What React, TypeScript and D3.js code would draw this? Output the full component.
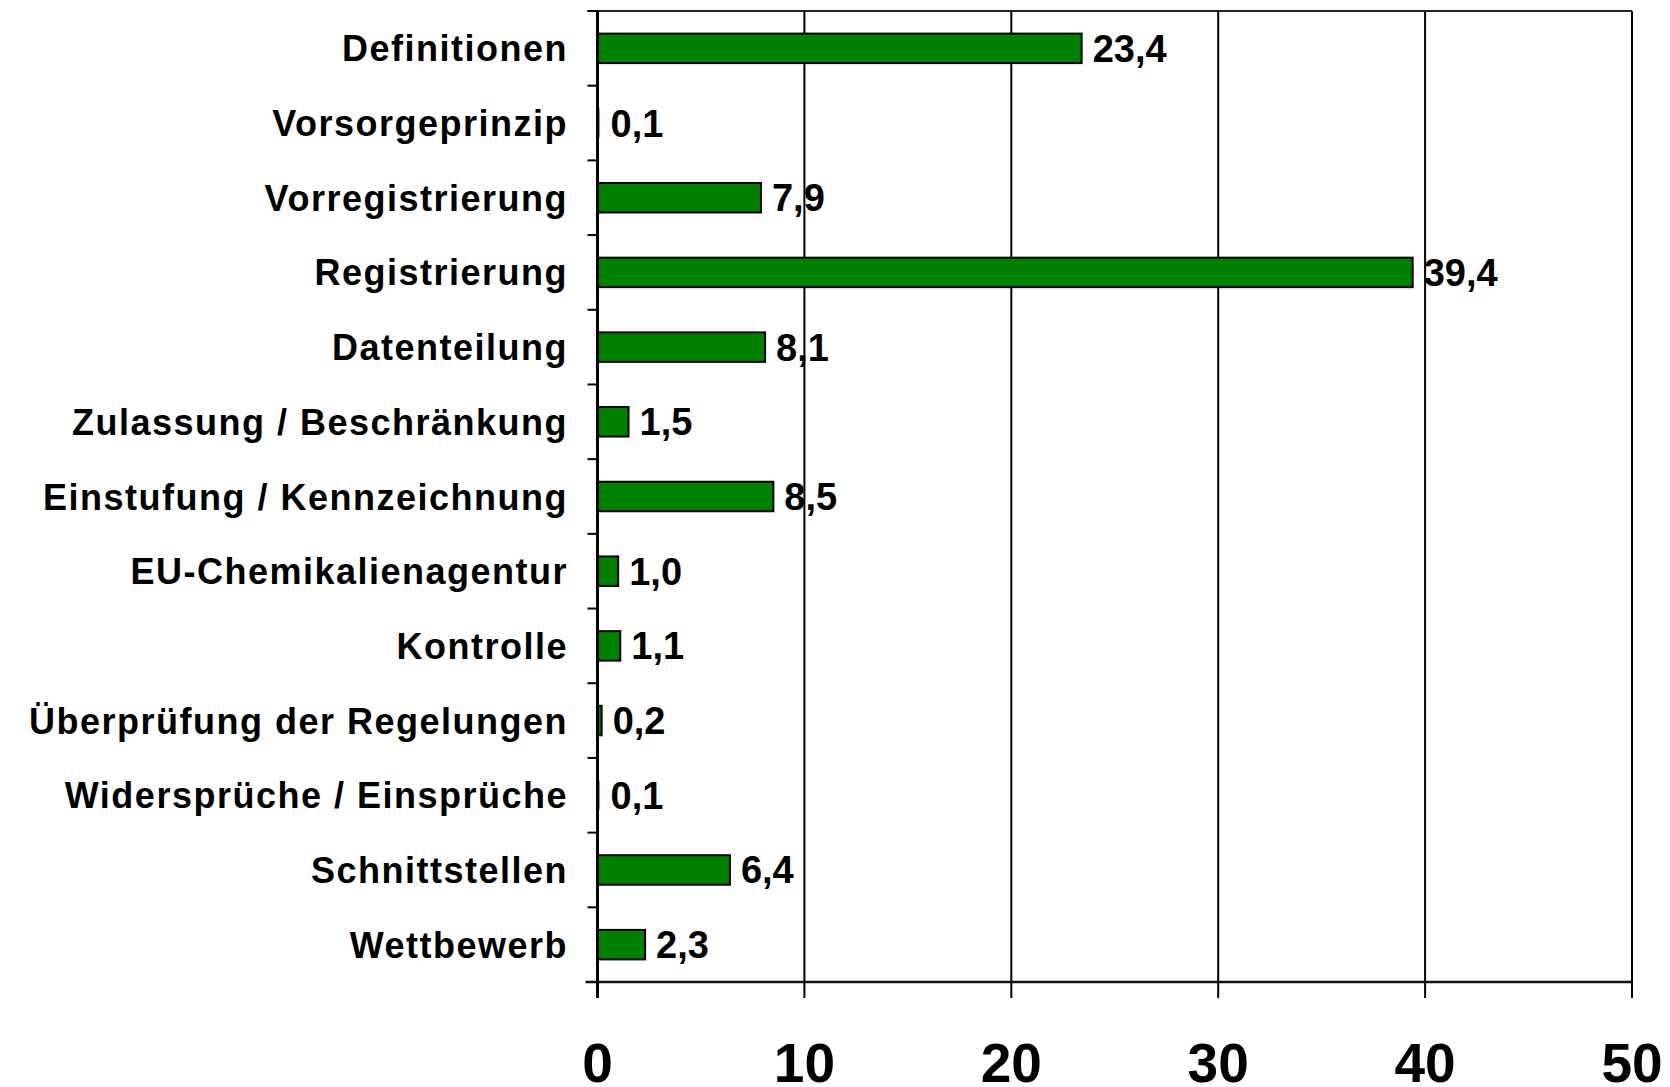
import React from "react";
import * as d3 from "d3";

const categories = [
  "Definitionen",
  "Vorsorgeprinzip",
  "Vorregistrierung",
  "Registrierung",
  "Datenteilung",
  "Zulassung / Beschränkung",
  "Einstufung / Kennzeichnung",
  "EU-Chemikalienagentur",
  "Kontrolle",
  "Überprüfung der Regelungen",
  "Widersprüche / Einsprüche",
  "Schnittstellen",
  "Wettbewerb",
];
const values = [23.4, 0.1, 7.9, 39.4, 8.1, 1.5, 8.5, 1.0, 1.1, 0.2, 0.1, 6.4, 2.3];
const xTicks = [0, 10, 20, 30, 40, 50];

const W = 1670;
const H = 1087;
const left = 597.5;
const right = 1632;
const top = 11;
const bottom = 982;
const FONT = "'Liberation Sans', Arial, Helvetica, sans-serif";

export default function App() {
  const x = d3.scaleLinear().domain([0, 50]).range([left, right]);
  const band = (bottom - top) / categories.length;
  const fmt = (v: number) => v.toFixed(1).replace(".", ",");
  const bh = 29.5;

  return (
    <svg width={W} height={H} style={{ position: "absolute", left: 0, top: 0, background: "#fff" }}>
      <rect x={0} y={0} width={W} height={H} fill="#fff" />
      {xTicks.slice(1).map((t) => (
        <line key={"g" + t} x1={x(t)} x2={x(t)} y1={top} y2={bottom} stroke="#000" strokeWidth={2} />
      ))}
      <line x1={left - 10} x2={right} y1={top} y2={top} stroke="#222" strokeWidth={2} />
      {d3.range(categories.length + 1).map((i) => (
        <line key={"ct" + i} x1={left - 10} x2={left} y1={top + i * band} y2={top + i * band} stroke="#000" strokeWidth={2} />
      ))}
      {categories.map((c, i) => {
        const cy = top + (i + 0.5) * band;
        const w = x(values[i]) - x(0);
        return (
          <rect key={"b" + c} x={x(0)} y={cy - bh / 2} width={w} height={bh} fill="#008000" stroke="#000" strokeWidth={w > 3 ? 2 : 0} />
        );
      })}
      {categories.map((c, i) => {
        const cy = top + (i + 0.5) * band;
        const lx = x(values[i]) + 11;
        return (
          <text key={"l" + c} x={lx} y={cy + 13.5} fontFamily={FONT} fontWeight="bold" fontSize={38} fill="#000">
            {fmt(values[i])}
          </text>
        );
      })}
      <line x1={left} x2={left} y1={top} y2={bottom + 16} stroke="#000" strokeWidth={3} />
      <line x1={left - 12} x2={right} y1={bottom} y2={bottom} stroke="#111" strokeWidth={2.5} />
      {xTicks.map((t) => (
        <line key={"xt" + t} x1={x(t)} x2={x(t)} y1={bottom} y2={bottom + 16} stroke="#000" strokeWidth={2} />
      ))}
      {xTicks.map((t) => (
        <text key={"xl" + t} x={x(t)} y={1082} textAnchor="middle" fontFamily={FONT} fontWeight="bold" fontSize={55} fill="#000">
          {t}
        </text>
      ))}
      {categories.map((c, i) => {
        const cy = top + (i + 0.5) * band;
        return (
          <text key={"c" + c} x={568} y={cy + 13} textAnchor="end" fontFamily={FONT} fontWeight="bold" fontSize={36} letterSpacing={1.5} fill="#000">
            {c}
          </text>
        );
      })}
    </svg>
  );
}
